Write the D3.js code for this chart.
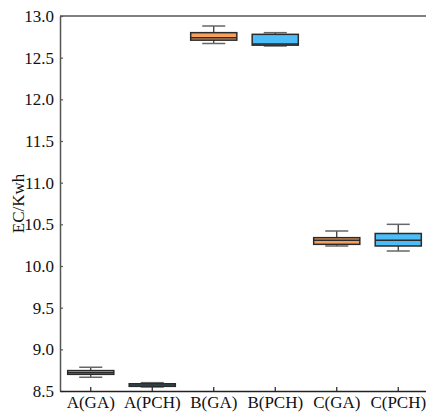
<!DOCTYPE html>
<html>
<head>
<meta charset="utf-8">
<script src="https://cdn.jsdelivr.net/npm/d3@7"></script>
<style>
  body { margin: 0; background: #fff; }
  svg { display: block; }
  text { font-family: "Times New Roman", "Liberation Serif", Times, serif; }
</style>
</head>
<body>
<div id="chart"></div>
<script>
const categories = ["A(GA)", "A(PCH)", "B(GA)", "B(PCH)", "C(GA)", "C(PCH)"];
const groups = ["GA", "PCH", "GA", "PCH", "GA", "PCH"];
const whiskerLow = [8.665, 8.548, 12.67, 12.64, 10.24, 10.18];
const q1 = [8.70, 8.556, 12.71, 12.65, 10.26, 10.24];
const median = [8.72, 8.572, 12.74, 12.665, 10.31, 10.31];
const q3 = [8.745, 8.587, 12.80, 12.78, 10.34, 10.39];
const whiskerHigh = [8.785, 8.60, 12.88, 12.80, 10.42, 10.50];
const yTicks = [8.5, 9.0, 9.5, 10.0, 10.5, 11.0, 11.5, 12.0, 12.5, 13.0];

const W = 426, H = 415;
const margin = { top: 16, right: -3, bottom: 24, left: 60 };
const colors = { GA: "#F5A05C", PCH: "#4DBDF8", stroke: "#2b2b2b", axis: "#555" };

const data = categories.map((c, i) => ({
  name: c, group: groups[i],
  lo: whiskerLow[i], q1: q1[i], med: median[i], q3: q3[i], hi: whiskerHigh[i]
}));

const svg = d3.select("#chart").append("svg").attr("width", W).attr("height", H);

const x = d3.scaleBand().domain(categories)
  .range([margin.left, W - margin.right]).paddingInner(0.25).paddingOuter(0.125);
const y = d3.scaleLinear().domain([8.5, 13.0]).range([H - margin.bottom, margin.top]);

const boxW = x.bandwidth();
const capW = boxW / 2;

const boxes = svg.append("g").selectAll("g").data(data).join("g")
  .attr("transform", d => `translate(${x(d.name) + boxW / 2},0)`);

// whiskers
boxes.append("line").attr("x1", 0).attr("x2", 0)
  .attr("y1", d => y(d.hi)).attr("y2", d => y(d.lo))
  .attr("stroke", colors.stroke).attr("stroke-width", 1.2);
boxes.append("line").attr("x1", -capW / 2).attr("x2", capW / 2)
  .attr("y1", d => y(d.hi)).attr("y2", d => y(d.hi))
  .attr("stroke", "#666").attr("stroke-width", 1.5);
boxes.append("line").attr("x1", -capW / 2).attr("x2", capW / 2)
  .attr("y1", d => y(d.lo)).attr("y2", d => y(d.lo))
  .attr("stroke", "#666").attr("stroke-width", 1.5);

// box
boxes.append("rect")
  .attr("x", -boxW / 2).attr("width", boxW)
  .attr("y", d => y(d.q3)).attr("height", d => Math.max(1, y(d.q1) - y(d.q3)))
  .attr("fill", d => colors[d.group])
  .attr("stroke", colors.stroke).attr("stroke-width", 1.5);

// median
boxes.append("line").attr("x1", -boxW / 2).attr("x2", boxW / 2)
  .attr("y1", d => y(d.med)).attr("y2", d => y(d.med))
  .attr("stroke", colors.stroke).attr("stroke-width", 1.5);

// axes
const yAxis = svg.append("g").attr("transform", `translate(${margin.left},0)`)
  .call(d3.axisLeft(y).tickValues(yTicks).tickFormat(d3.format(".1f")).tickSizeInner(-3).tickSizeOuter(0).tickPadding(6));
yAxis.attr("font-family", null);
yAxis.select(".domain").attr("stroke", colors.axis).attr("stroke-width", 1.5);
yAxis.selectAll(".tick line").attr("stroke", colors.axis).attr("stroke-width", 1.2);
yAxis.selectAll(".tick text").attr("fill", "#111").style("font-size", "17px");

const xAxis = svg.append("g").attr("transform", `translate(0,${H - margin.bottom})`)
  .call(d3.axisBottom(x).tickSizeInner(-4).tickSizeOuter(0).tickPadding(5));
xAxis.attr("font-family", null);
xAxis.select(".domain").attr("stroke", "#222").attr("stroke-width", 1.5);
xAxis.selectAll(".tick line").attr("stroke", "#222").attr("stroke-width", 1.2);
xAxis.selectAll(".tick text").attr("fill", "#111").style("font-size", "17px");

// top frame
svg.append("line")
  .attr("x1", margin.left).attr("x2", W)
  .attr("y1", y(13.0)).attr("y2", y(13.0))
  .attr("stroke", colors.axis).attr("stroke-width", 1.5);

// y label
svg.append("text")
  .attr("transform", `translate(24,${(y(8.5) + y(13.0)) / 2}) rotate(-90)`)
  .attr("text-anchor", "middle")
  .style("font-size", "17px").attr("fill", "#111")
  .text("EC/Kwh");
</script>
</body>
</html>
